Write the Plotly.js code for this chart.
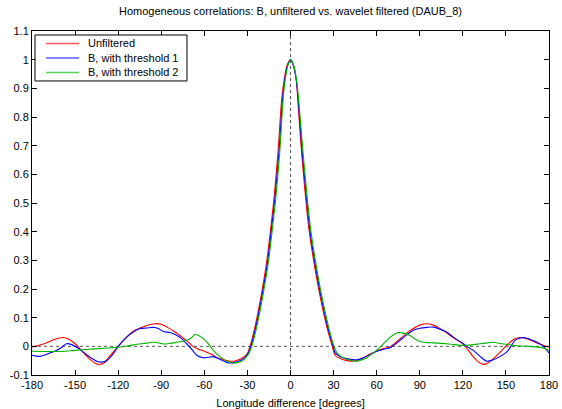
<!DOCTYPE html>
<html>
<head>
<meta charset="utf-8">
<script src="https://cdn.plot.ly/plotly-3.0.1.min.js"></script>
<style>html,body{margin:0;padding:0;background:#fff;}#chart{width:562px;height:409px;}</style>
</head>
<body>
<div id="chart"></div>
<script>
// ---- Data ----
const seriesNames = ["Unfiltered", "B, with threshold 1", "B, with threshold 2"];

const redX = [-180,-172,-165,-158,-154,-150,-144,-139,-134,-130,-126,-120,-115,-109.5,-104,-100,-94.5,-90,-86,-81,-77,-72,-68,-64,-60,-55,-51,-46,-42,-38,-35,-32,-30,
  -28.2,-25,-20.4,-16.6,-13.8,-11.3,-8.6,-6.2,-4.4,-2.4,0,2,4,5.1,7.6,10.4,12.8,16.3,20.5,25.6,29.1,
  31,35,39,43.7,47,50.7,55,60.5,65,69.3,73,76.3,81,85.5,90,94.8,99.5,104,108.7,113.4,120.4,124,127.3,131,134.3,137.5,141.2,146,150.5,156.3,160,162.1,166,171.4,176,180];
const redY = [-0.002,0.008,0.023,0.031,0.024,0.009,-0.023,-0.048,-0.063,-0.058,-0.035,0.0,0.028,0.053,0.066,0.073,0.079,0.077,0.067,0.052,0.038,0.018,0.0,-0.01,-0.017,-0.028,-0.04,-0.048,-0.052,-0.05,-0.044,-0.035,-0.025,
  0,0.062,0.178,0.294,0.41,0.525,0.684,0.858,0.93,0.98,1.0,0.98,0.93,0.858,0.684,0.525,0.41,0.294,0.178,0.062,0,
  -0.031,-0.043,-0.049,-0.052,-0.048,-0.04,-0.028,-0.016,-0.008,-0.002,0.012,0.027,0.047,0.062,0.074,0.079,0.074,0.062,0.047,0.03,0.007,-0.015,-0.037,-0.055,-0.063,-0.058,-0.043,-0.02,0.003,0.027,0.031,0.03,0.024,0.012,0.004,-0.002];

const blueX = [-180,-177,-174.4,-171,-167,-162.8,-159,-156,-152.4,-148,-144.3,-139,-134,-132.7,-128,-124,-120,-114,-109.5,-104.8,-100,-95.5,-92,-88.6,-84,-80.4,-76,-72.3,-68,-65.3,-60.7,-57,-53.8,-49,-44.4,-42,-39,-35,-32,-30,
  -27.6,-24.4,-19.8,-16,-13.2,-10.7,-7.9,-5.6,-4,-2,0,2,4,5.4,8.1,11,13.4,16.9,21.1,26.2,29.7,
  31,35,39.1,43,46.1,50,53,57,60.5,65,69.3,73,76.3,81,85.5,90,95,99.5,104,108.7,113.4,120.4,124,127.3,132,136.6,139,141.2,146,150.5,153.5,156.3,160,163.3,167,171.4,176,180];
const blueY = [-0.031,-0.034,-0.035,-0.03,-0.022,-0.014,-0.002,0.009,0.006,-0.006,-0.02,-0.04,-0.054,-0.055,-0.05,-0.03,0.0,0.032,0.05,0.062,0.064,0.066,0.062,0.052,0.048,0.041,0.028,0.009,-0.015,-0.031,-0.04,-0.038,-0.036,-0.046,-0.056,-0.058,-0.056,-0.049,-0.04,-0.028,
  0,0.062,0.178,0.294,0.41,0.525,0.684,0.858,0.93,0.98,1.0,0.98,0.93,0.858,0.684,0.525,0.41,0.294,0.178,0.062,0,
  -0.022,-0.037,-0.043,-0.046,-0.047,-0.042,-0.035,-0.024,-0.016,-0.01,-0.005,0.008,0.021,0.04,0.056,0.063,0.066,0.067,0.06,0.05,0.032,0.009,-0.004,-0.014,-0.035,-0.052,-0.05,-0.047,-0.035,-0.02,0.0,0.021,0.029,0.03,0.024,0.015,0.0,-0.023];

const greenX = [-180,-170,-160,-150,-140,-133,-125,-120,-115,-109.5,-102,-95.5,-91,-88.6,-84,-79.3,-75,-72.3,-69,-66.5,-63.5,-60.7,-57,-53.8,-49,-44.4,-40,-36,-33,-31,-29,
  -27,-23.8,-19.2,-15.4,-12.6,-10.1,-7.4,-5.2,-3.7,-1.8,0.1,2.2,4.2,5.7,8.6,11.5,14,17.5,21.7,26.8,30.3,
  32,35,39.1,43,46.1,50.7,53,57,60.5,64,67,71,75.1,78,83.2,87,90.2,95,99.5,108.7,114,120.4,126,132,137,141.2,146,150.5,156,160,165,171.4,176,180];
const greenY = [-0.017,-0.018,-0.018,-0.014,-0.01,-0.008,-0.005,-0.003,0.0,0.005,0.01,0.014,0.011,0.008,0.01,0.014,0.018,0.021,0.03,0.041,0.036,0.027,0.008,-0.014,-0.036,-0.052,-0.058,-0.055,-0.049,-0.038,-0.025,
  0,0.062,0.178,0.294,0.41,0.525,0.684,0.858,0.93,0.98,1.0,0.98,0.93,0.858,0.684,0.525,0.41,0.294,0.178,0.062,0,
  -0.02,-0.035,-0.045,-0.05,-0.052,-0.045,-0.04,-0.025,-0.012,0.005,0.021,0.038,0.048,0.047,0.038,0.025,0.017,0.013,0.012,0.009,0.006,0.003,0.005,0.009,0.012,0.014,0.01,0.007,0.003,0.001,0.0,-0.002,-0.006,-0.014];

const xTickVals = [-180,-150,-120,-90,-60,-30,0,30,60,90,120,150,180];
const xTickText = ["-180","-150","-120","-90","-60","-30","0","30","60","90","120","150","180"];
const yTickVals = [-0.1,0,0.1,0.2,0.3,0.4,0.5,0.6,0.7,0.8,0.9,1,1.1];
const yTickText = ["-0.1","0","0.1","0.2","0.3","0.4","0.5","0.6","0.7","0.8","0.9","1","1.1"];

const colors = ["rgb(255,0,0)", "rgb(0,0,255)", "rgb(0,180,0)"];
const legendColors = ["rgb(255,90,90)", "rgb(90,90,255)", "rgb(90,210,90)"];

// ---- Traces ----
const xs = [redX, blueX, greenX];
const ys = [redY, blueY, greenY];
const traces = xs.map((x, i) => ({
  type: "scatter",
  mode: "lines",
  x: x,
  y: ys[i],
  name: seriesNames[i],
  showlegend: false,
  line: {color: colors[i], width: 1.1, shape: "spline", smoothing: 0.8}
}));

const fam = "Liberation Sans, Arial, Helvetica, sans-serif";
const font = {family: fam, size: 11, color: "#000"};

// ---- Legend drawn as a box with line samples and text (gnuplot style) ----
const legBox = {x0: 0.0058, x1: 0.2998, y0: 0.8547, y1: 0.9884};
const legRowsY = [0.9637, 0.9215, 0.8794];
const legLineX = [0.0271, 0.0909];
const legTextX = 0.1044;

const shapes = [
  {type: "line", xref: "x", yref: "paper", x0: 0, x1: 0, y0: 0, y1: 1, layer: "below",
   line: {color: "#555", width: 1, dash: "dot"}},
  {type: "line", xref: "paper", yref: "y", x0: 0, x1: 1, y0: 0, y1: 0, layer: "below",
   line: {color: "#555", width: 1, dash: "dot"}},
  {type: "rect", xref: "paper", yref: "paper", x0: legBox.x0, x1: legBox.x1, y0: legBox.y0, y1: legBox.y1,
   layer: "above", fillcolor: "#fff", line: {color: "#000", width: 1}}
];
const annotations = [];
seriesNames.forEach((nm, i) => {
  shapes.push({type: "line", xref: "paper", yref: "paper", x0: legLineX[0], x1: legLineX[1],
    y0: legRowsY[i], y1: legRowsY[i], layer: "above", line: {color: legendColors[i], width: 1.6, dash: "solid"}});
  annotations.push({xref: "paper", yref: "paper", x: legTextX, y: legRowsY[i], xanchor: "left", yanchor: "middle",
    text: nm, showarrow: false, font: {family: fam, size: 11, color: "#000"}});
});

const layout = {
  width: 562, height: 409,
  margin: {l: 32, r: 13, t: 31, b: 34, pad: 0},
  paper_bgcolor: "#fff", plot_bgcolor: "#fff",
  font: font,
  title: {text: "Homogeneous correlations: B, unfiltered vs. wavelet filtered (DAUB_8)",
          font: {family: fam, size: 11, color: "#000"},
          x: 0.5, xref: "paper", y: 1, yref: "container", yanchor: "top", pad: {t: 7}},
  xaxis: {
    range: [-180, 180], tickvals: xTickVals, ticktext: xTickText,
    ticks: "inside", ticklen: 5, tickcolor: "#000", tickwidth: 1,
    showline: true, linecolor: "#000", linewidth: 1, mirror: "allticks",
    showgrid: false, zeroline: false,
    title: {text: "Longitude difference [degrees]", font: {family: fam, size: 11}, standoff: 10},
    tickfont: {family: fam, size: 11}
  },
  yaxis: {
    range: [-0.1, 1.1], tickvals: yTickVals, ticktext: yTickText,
    ticks: "inside", ticklen: 5, tickcolor: "#000", tickwidth: 1,
    showline: true, linecolor: "#000", linewidth: 1, mirror: "allticks",
    showgrid: false, zeroline: false,
    tickfont: {family: fam, size: 11}
  },
  showlegend: false,
  shapes: shapes,
  annotations: annotations
};

Plotly.newPlot("chart", traces, layout, {staticPlot: true, displayModeBar: false});
</script>
</body>
</html>
